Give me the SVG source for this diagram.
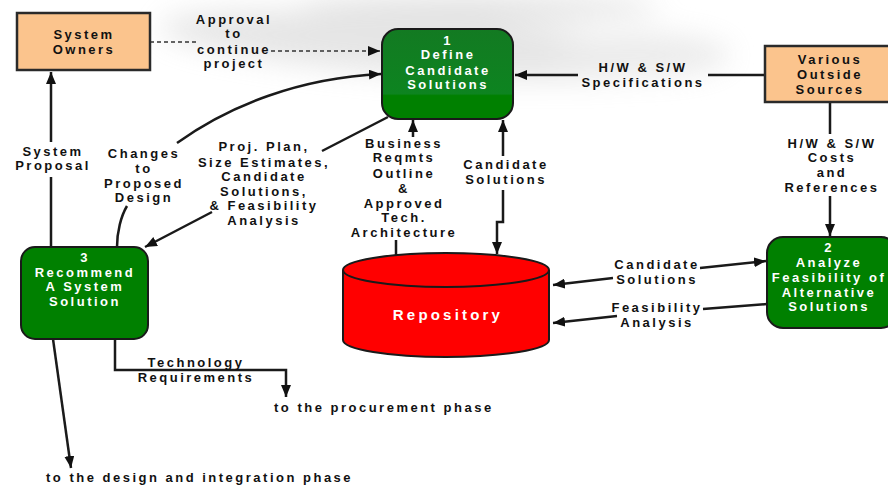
<svg xmlns="http://www.w3.org/2000/svg" width="888" height="485" viewBox="0 0 888 485">
<style>
text{font-family:"Liberation Sans",Arial,sans-serif;font-weight:bold;font-size:13px;letter-spacing:2.5px;text-anchor:middle;fill:#111}
.w{fill:#fff}
.ext{fill:#fbc48d;stroke:#2a2a2a;stroke-width:2.5}
.proc{fill:#008000;stroke:#1a1a1a;stroke-width:2}
.ln{fill:none;stroke:#1a1a1a;stroke-width:2.5}
.dash{stroke-dasharray:4 3;stroke-width:1.5;stroke:#333}
.st{text-anchor:start}
</style>
<defs>
<marker id="ah" viewBox="0 0 12 10" refX="12" refY="5" markerWidth="12" markerHeight="10" markerUnits="userSpaceOnUse" orient="auto-start-reverse">
<path d="M0,0 L12,5 L0,10 z" fill="#111"/>
</marker>
<filter id="blur" x="-20%" y="-50%" width="140%" height="200%"><feGaussianBlur stdDeviation="14"/></filter>
<linearGradient id="g1" x1="0" y1="0" x2="0" y2="1">
<stop offset="0" stop-color="#137a22"/>
<stop offset="0.72" stop-color="#0d8420"/>
<stop offset="0.74" stop-color="#008000"/>
<stop offset="1" stop-color="#008000"/>
</linearGradient>
</defs>
<rect width="888" height="485" fill="#fff"/>
<g id="watermark" filter="url(#blur)" opacity="0.35">
<ellipse cx="420" cy="45" rx="260" ry="30" fill="#b8b8b8" transform="rotate(4 420 45)"/>
<ellipse cx="480" cy="8" rx="180" ry="12" fill="#aaaaaa"/>
<ellipse cx="640" cy="55" rx="90" ry="22" fill="#c8c8c8"/>
</g>

<g id="connectors">
<path class="ln dash" d="M150,42 H196 M271,51 H380" marker-end="url(#ah)"/>
<path class="ln" d="M51,247 V177 M51,142 V72" marker-end="url(#ah)"/>
<path class="ln" d="M117,247 C117,232 121,216 127,206 M177,143 C230,105 300,78 381,74" marker-end="url(#ah)"/>
<path class="ln" d="M388,117 L322,151 M212,212 L145,247" marker-end="url(#ah)"/>
<path class="ln" d="M396,255 V240 M413,137 V120" marker-end="url(#ah)"/>
<path class="ln" d="M497,254 V222 H503 V190 M503,156 V120" marker-start="url(#ah)" marker-end="url(#ah)"/>
<path class="ln" d="M765,75 H708 M578,75 H515" marker-end="url(#ah)"/>
<path class="ln" d="M830,102 V134 M830,196 V236" marker-end="url(#ah)"/>
<path class="ln" d="M553,285 L613,278 M700,268 L766,261" marker-start="url(#ah)" marker-end="url(#ah)"/>
<path class="ln" d="M767,304 L703,309 M617,316 L553,323" marker-end="url(#ah)"/>
<path class="ln" d="M53,339 L71,468" marker-end="url(#ah)"/>
<path class="ln" d="M115,339 V370 H286 V397" marker-end="url(#ah)"/>
</g>

<g id="system-owners">
<rect class="ext" x="17" y="13" width="133" height="57"/>
<text x="84" y="39" fill="#333">System</text>
<text x="84" y="54" fill="#333">Owners</text>
</g>

<g id="various-outside-sources">
<rect class="ext" x="765" y="46" width="126" height="56"/>
<text x="830" y="64">Various</text>
<text x="830" y="79">Outside</text>
<text x="830" y="94">Sources</text>
</g>

<g id="node1">
<rect x="382" y="29" width="131" height="90" rx="16" fill="url(#g1)" stroke="#1a1a1a" stroke-width="2"/>
<text class="w" x="448" y="45">1</text>
<text class="w" x="448" y="59">Define</text>
<text class="w" x="448" y="75">Candidate</text>
<text class="w" x="448" y="89">Solutions</text>
</g>

<g id="node2">
<rect class="proc" x="767" y="237" width="130" height="91" rx="16"/>
<text class="w" x="829" y="252">2</text>
<text class="w" x="829" y="267">Analyze</text>
<text class="w" x="829" y="282">Feasibility of</text>
<text class="w" x="829" y="297">Alternative</text>
<text class="w" x="829" y="311">Solutions</text>
</g>

<g id="node3">
<rect class="proc" x="21" y="247" width="127" height="92" rx="14"/>
<text class="w" x="85" y="262">3</text>
<text class="w" x="85" y="277">Recommend</text>
<text class="w" x="85" y="291">A System</text>
<text class="w" x="85" y="306">Solution</text>
</g>

<g id="repository">
<path d="M343,270 V340 A103,17 0 0 0 549,340 V270" fill="#ff0000" stroke="#1a1a1a" stroke-width="2"/>
<ellipse cx="446" cy="270" rx="103" ry="17" fill="#ff0000" stroke="#1a1a1a" stroke-width="2"/>
<text class="w" x="448" y="320" style="font-size:15px;letter-spacing:3.2px">Repository</text>
</g>

<g id="labels">
<text x="234" y="24">Approval</text>
<text x="234" y="38">to</text>
<text x="234" y="54">continue</text>
<text x="234" y="68">project</text>

<text x="53" y="156">System</text>
<text x="53" y="170">Proposal</text>

<text x="144" y="158">Changes</text>
<text x="144" y="173">to</text>
<text x="144" y="188">Proposed</text>
<text x="144" y="202">Design</text>

<text x="264" y="151">Proj. Plan,</text>
<text x="264" y="167">Size Estimates,</text>
<text x="264" y="181">Candidate</text>
<text x="264" y="196">Solutions,</text>
<text x="264" y="210">&amp; Feasibility</text>
<text x="264" y="225">Analysis</text>

<text x="404" y="148">Business</text>
<text x="404" y="162">Reqmts</text>
<text x="404" y="178">Outline</text>
<text x="404" y="193">&amp;</text>
<text x="404" y="208">Approved</text>
<text x="404" y="222">Tech.</text>
<text x="404" y="237">Architecture</text>

<text x="506" y="169">Candidate</text>
<text x="506" y="184">Solutions</text>

<text x="643" y="72">H/W &amp; S/W</text>
<text x="643" y="87">Specifications</text>

<text x="832" y="148">H/W &amp; S/W</text>
<text x="832" y="162">Costs</text>
<text x="832" y="177">and</text>
<text x="832" y="192">References</text>

<text x="657" y="269">Candidate</text>
<text x="657" y="284">Solutions</text>
<text x="657" y="312">Feasibility</text>
<text x="657" y="327">Analysis</text>

<text x="196" y="367">Technology</text>
<text x="196" y="382">Requirements</text>

<text class="st" x="274" y="412">to the procurement phase</text>
<text class="st" x="46" y="482">to the design and integration phase</text>
</g>
</svg>
